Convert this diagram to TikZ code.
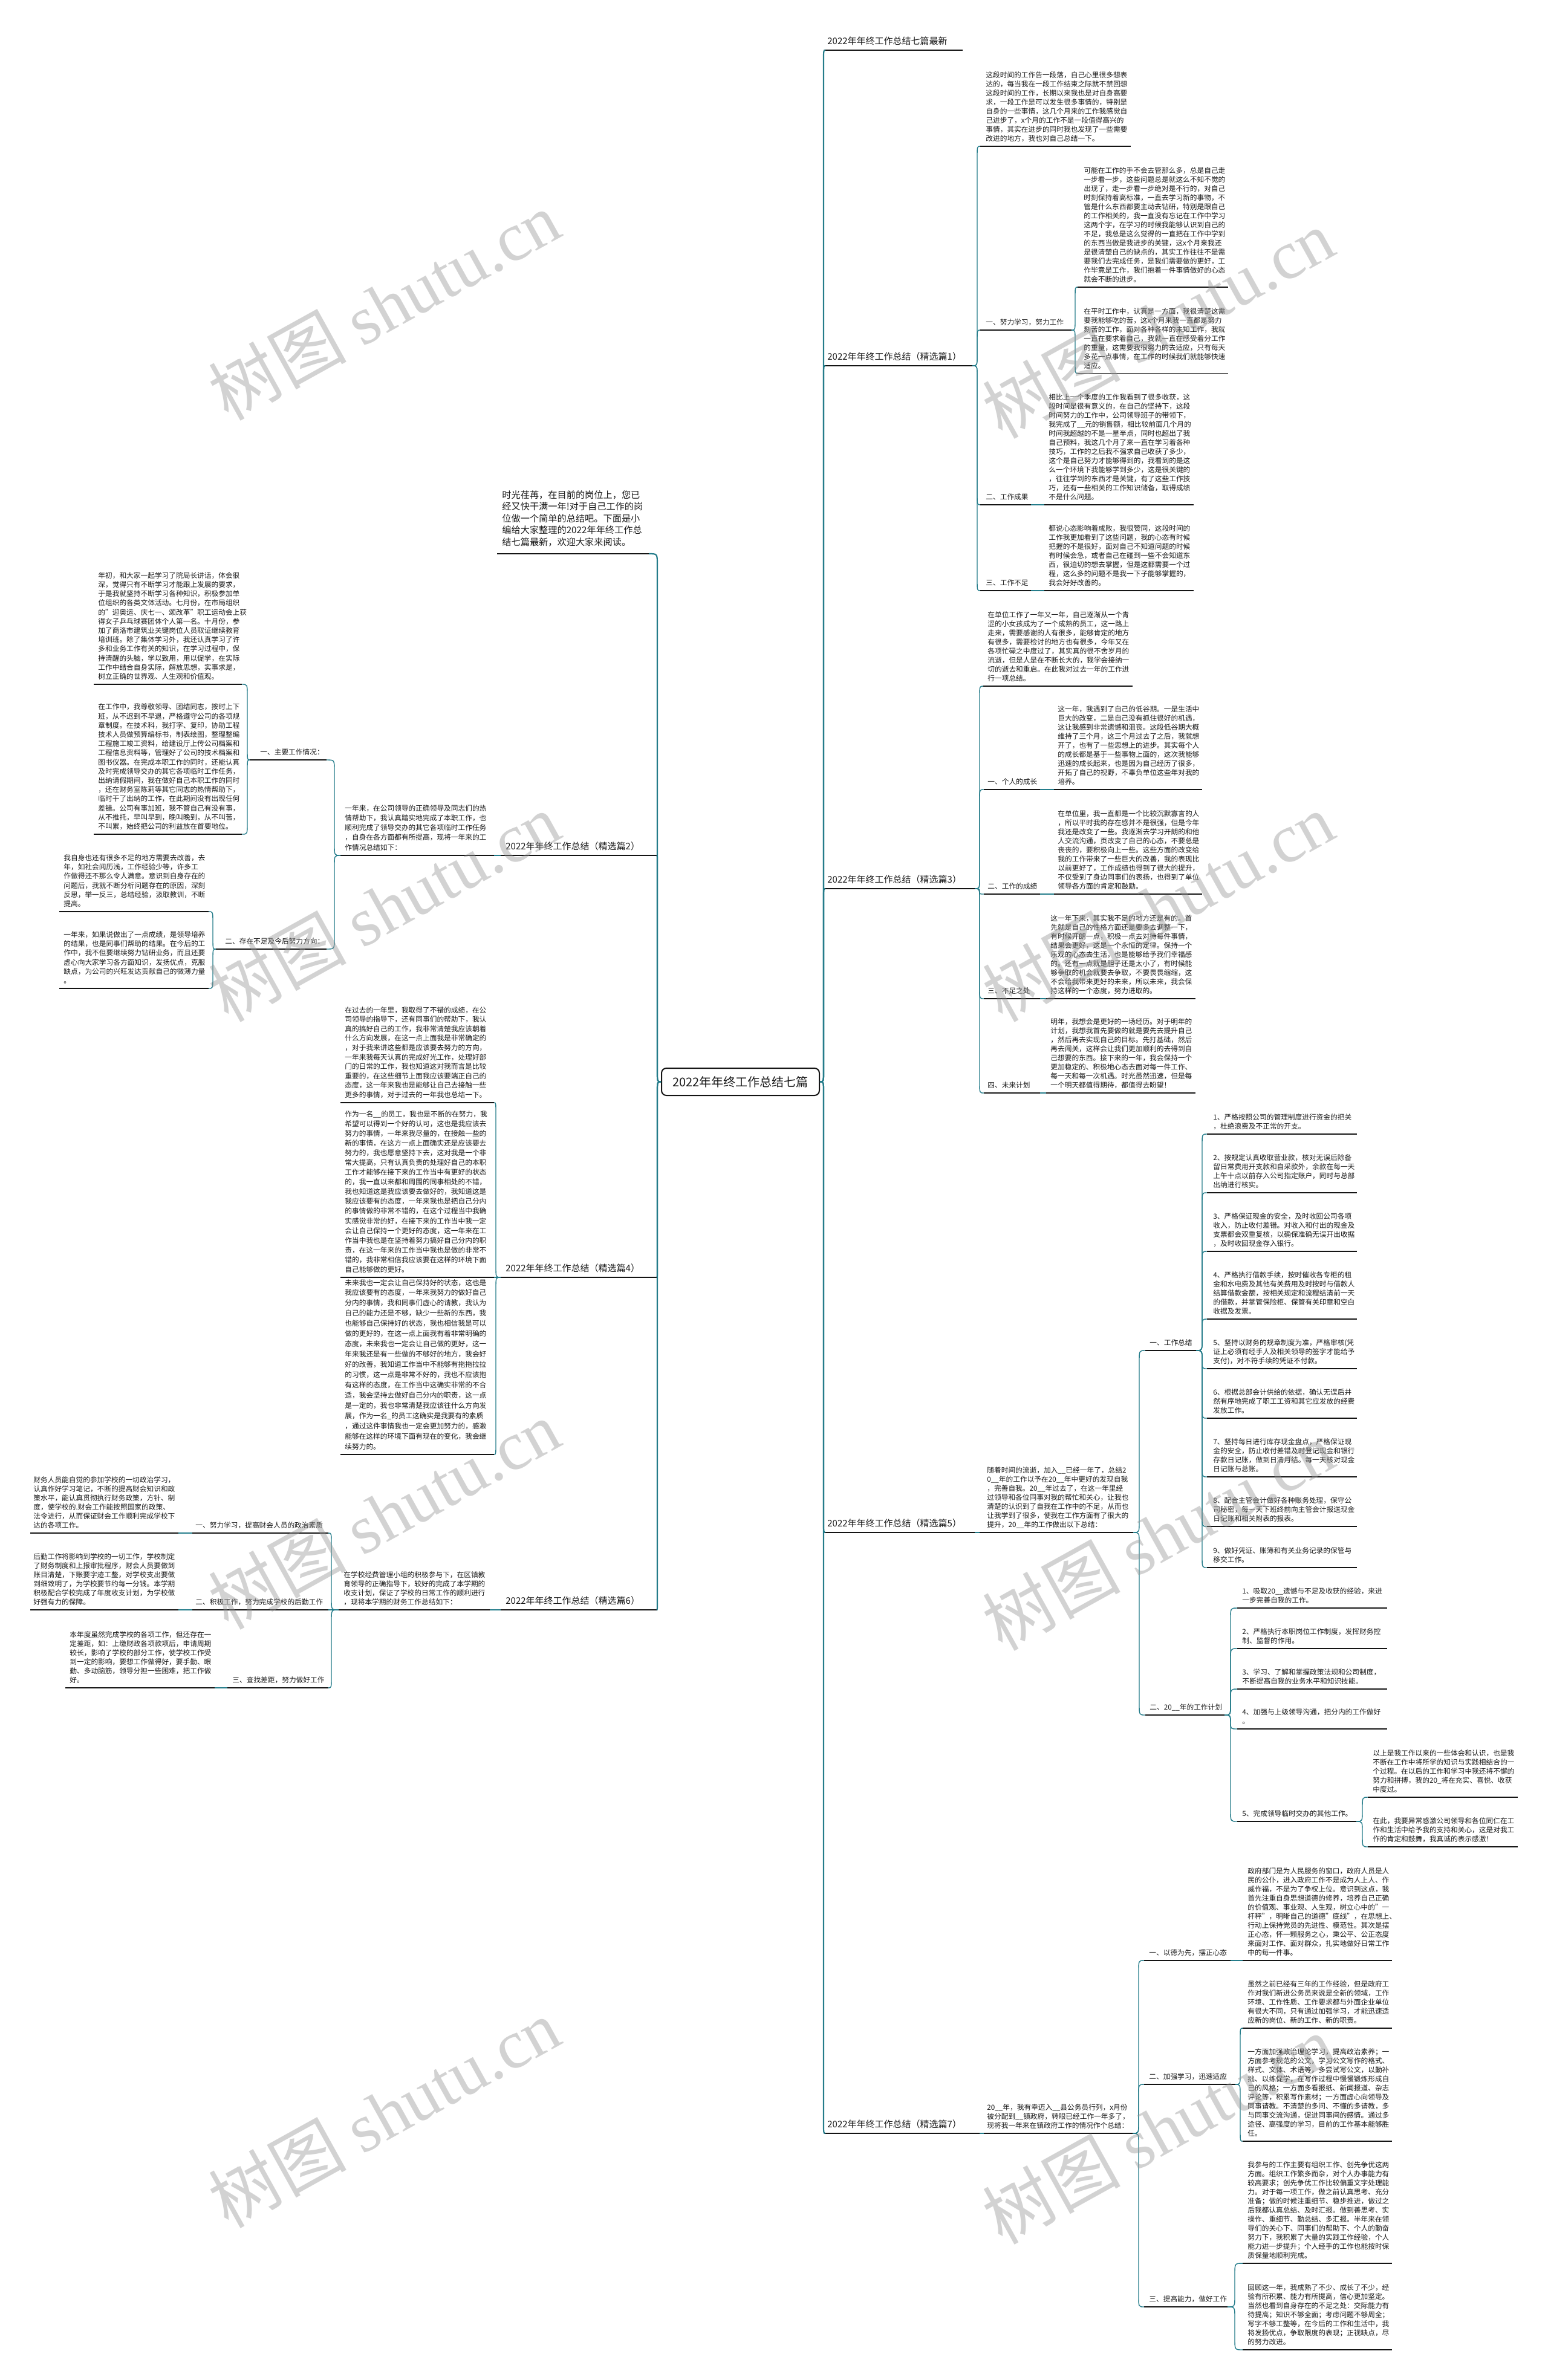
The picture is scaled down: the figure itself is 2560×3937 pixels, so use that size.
\documentclass[tikz,border=0pt]{standalone}
\usepackage{fontspec}
\setmainfont{Noto Sans CJK SC}
\newfontfamily\wmlatin{Liberation Serif}
\usetikzlibrary{calc}
\definecolor{teal1}{RGB}{36,124,138}
\definecolor{txt}{RGB}{25,25,25}
\definecolor{ulc}{RGB}{20,20,20}
\definecolor{wm}{RGB}{150,150,150}
\tikzset{
 para/.style={anchor=south west, inner sep=0pt, align=left, text=txt, font=\fontsize{5.85pt}{7.5pt}\selectfont, execute at end node=\strut},
 pitch/.style={font=\fontsize{5.85pt}{#1}\selectfont},
 blabel/.style={font=\fontsize{7.5pt}{9pt}\selectfont},
 ulline/.style={draw=ulc, line width=0.8pt},
 conn/.style={draw=teal1, line width=0.7pt},
 rootconn/.style={draw=teal1, line width=1.1pt},
 rootbox/.style={draw=ulc, line width=1pt, rounded corners=4pt, fill=white, minimum width=130.5pt, minimum height=22.5pt, font=\fontsize{10pt}{12pt}\selectfont, text=txt, inner sep=0pt},
 wmark/.style={text=wm, opacity=0.42, rotate=29, font=\fontsize{57pt}{62pt}\selectfont, inner sep=0pt},
}
\newcommand\mkul[4]{\coordinate (#1-l) at (#2,#4);\coordinate (#1-r) at (#3,#4);\draw[ulline] (#1-l) -- (#1-r);}
\newcommand\mktxt[5][]{\node[para,#1] (#2) at (#3,#4-3.5) {#5};}
\newcommand\mklink[4][conn]{\draw[#1] let \p1=(#2), \p2=(#3), \n1={((\y2>\y1)-(\y2<\y1))}, \n2={min(9pt,abs(\y2-\y1)/2)} in (\p1) .. controls ({\x1+(#4)},\y1) .. ({\x1+(#4)},{\y1+(\n1)*(\n2)}) -- ({\x1+(#4)},{\y2-(\n1)*(\n2)}) .. controls ({\x1+(#4)},\y2) .. (\p2);}
\begin{document}
\begin{tikzpicture}[x=0.5pt,y=-0.5pt]
\useasboundingbox (0,0) rectangle (2560,3937);
\fill[white] (0,0) rectangle (2560,3937);
% root
\node[rootbox] (root) at (1224.5,1789.5) {2022年年终工作总结七篇};
%================ RIGHT =================
% B1
\mkul{b1}{1365}{1592}{83}
\mktxt[blabel]{b1t}{1368}{83}{2022年年终工作总结七篇最新}
% B2
\mkul{b2}{1365}{1608}{605}
\mktxt[blabel]{b2t}{1368}{605}{2022年年终工作总结（精选篇1）}
\mkul{b2i}{1621}{1870}{242}
\mktxt{b2it}{1630}{242}{这段时间的工作告一段落，自己心里很多想表\\达的，每当我在一段工作结束之际就不禁回想\\这段时间的工作，长期以来我也是对自身高要\\求，一段工作是可以发生很多事情的，特别是\\自身的一些事情，这几个月来的工作我感觉自\\己进步了，x个月的工作不是一段值得高兴的\\事情，其实在进步的同时我也发现了一些需要\\改进的地方，我也对自己总结一下。}
\mkul{b2a}{1621}{1772}{546}
\mktxt{b2at}{1630}{546}{一、努力学习，努力工作}
\mkul{b2a1}{1782}{2031}{475}
\mktxt{b2a1t}{1792}{475}{可能在工作的手不会去管那么多，总是自己走\\一步看一步，这些问题总是就这么不知不觉的\\出现了，走一步看一步绝对是不行的，对自己\\时刻保持着高标准，一直去学习新的事物，不\\管是什么东西都要主动去钻研，特别是跟自己\\的工作相关的，我一直没有忘记在工作中学习\\这两个字，在学习的时候我能够认识到自己的\\不足，我总是这么觉得的一直把在工作中学到\\的东西当做是我进步的关键，这x个月来我还\\是很清楚自己的缺点的，其实工作往往不是需\\要我们去完成任务，是我们需要做的更好，工\\作毕竟是工作，我们抱着一件事情做好的心态\\就会不断的进步。}
\mkul{b2a2}{1782}{2031}{617.5}
\mktxt{b2a2t}{1792}{617.5}{在平时工作中，认真是一方面，我很清楚这需\\要我能够吃的苦，这x个月来我一直都是努力\\刻苦的工作，面对各种各样的未知工作，我就\\一直在要求着自己，我就一直在感受着分工作\\的重量，这需要我很努力的去适应，只有每天\\多花一点事情，在工作的时候我们就能够快速\\适应。}
\mkul{b2b}{1621}{1705}{835}
\mktxt{b2bt}{1630}{835}{二、工作成果}
\mkul{b2b1}{1727}{1974}{835}
\mktxt{b2b1t}{1734}{835}{相比上一个季度的工作我看到了很多收获，这\\段时间是很有意义的，在自己的坚持下，这段\\时间努力的工作中，公司领导班子的带领下，\\我完成了\_\_元的销售额，相比较前面几个月的\\时间我超越的不是一星半点，同时也超出了我\\自己预料，我这几个月了来一直在学习着各种\\技巧，工作的之后我不强求自己收获了多少，\\这个是自己努力才能够得到的，我看到的是这\\么一个环境下我能够学到多少，这是很关键的\\，往往学到的东西才是关键，有了这些工作技\\巧，还有一些相关的工作知识储备，取得成绩\\不是什么问题。}
\mkul{b2c}{1621}{1705}{977}
\mktxt{b2ct}{1630}{977}{三、工作不足}
\mkul{b2c1}{1727}{1974}{977}
\mktxt{b2c1t}{1734}{977}{都说心态影响着成败，我很赞同，这段时间的\\工作我更加看到了这些问题，我的心态有时候\\把握的不是很好，面对自己不知道问题的时候\\有时候会急，或者自己在碰到一些不会知道东\\西，很迫切的想去掌握，但是这都需要一个过\\程，这么多的问题不是我一下子能够掌握的，\\我会好好改善的。}
\mklink{b2-r}{b2i-l}{4pt}
\mklink{b2-r}{b2a-l}{4pt}
\mklink{b2-r}{b2b-l}{4pt}
\mklink{b2-r}{b2c-l}{4pt}
\mklink{b2a-r}{b2a1-l}{3pt}
\mklink{b2a-r}{b2a2-l}{3pt}
\mklink{b2b-r}{b2b1-l}{3pt}
\mklink{b2c-r}{b2c1-l}{3pt}
% B3
\mkul{b3}{1365}{1612}{1470}
\mktxt[blabel]{b3t}{1368}{1470}{2022年年终工作总结（精选篇3）}
\mkul{b3i}{1626}{1873}{1135}
\mktxt{b3it}{1633}{1135}{在单位工作了一年又一年，自己逐渐从一个青\\涩的小女孩成为了一个成熟的员工，这一路上\\走来，需要感谢的人有很多，能够肯定的地方\\有很多，需要检讨的地方也有很多，今年又在\\各项忙碌之中度过了，其实真的很不舍岁月的\\流逝，但是人是在不断长大的，我学会接纳一\\切的逝去和重启。在此我对过去一年的工作进\\行一项总结。}
\mkul{b3a}{1627}{1720}{1306}
\mktxt{b3at}{1633}{1306}{一、个人的成长}
\mkul{b3a1}{1743}{1988}{1306}
\mktxt{b3a1t}{1749}{1306}{这一年，我遇到了自己的低谷期。一是生活中\\巨大的改变，二是自己没有抓住很好的机遇，\\这让我感到非常遗憾和沮丧。这段低谷期大概\\维持了三个月，这三个月过去了之后，我就想\\开了，也有了一些思想上的进步。其实每个人\\的成长都是基于一些事物上面的，这次我能够\\迅速的成长起来，也是因为自己经历了很多，\\开拓了自己的视野，不辜负单位这些年对我的\\培养。}
\mkul{b3b}{1627}{1720}{1479}
\mktxt{b3bt}{1633}{1479}{二、工作的成绩}
\mkul{b3b1}{1743}{1988}{1479}
\mktxt{b3b1t}{1749}{1479}{在单位里，我一直都是一个比较沉默寡言的人\\，所以平时我的存在感并不是很强，但是今年\\我还是改变了一些。我逐渐去学习开朗的和他\\人交流沟通，页改变了自己的心态，不要总是\\丧丧的，要积极向上一些。这些方面的改变给\\我的工作带来了一些巨大的改善，我的表现比\\以前更好了，工作成绩也得到了很大的提升，\\不仅受到了身边同事们的表扬，也得到了单位\\领导各方面的肯定和鼓励。}
\mkul{b3c}{1627}{1720}{1652}
\mktxt{b3ct}{1633}{1652}{三、不足之处}
\mkul{b3c1}{1730}{1977}{1652}
\mktxt{b3c1t}{1737}{1652}{这一年下来，其实我不足的地方还是有的。首\\先就是自己的性格方面还是要多去调整一下，\\有时候开朗一点，积极一点去对待每件事情，\\结果会更好，这是一个永恒的定律。保持一个\\乐观的心态去生活，也是能够给予我们幸福感\\的。还有一点就是胆子还是太小了，有时候能\\够争取的机会就要去争取，不要畏畏缩缩，这\\不会给我带来更好的未来，所以未来，我会保\\持这样的一个态度，努力进取的。}
\mkul{b3d}{1627}{1720}{1808}
\mktxt{b3dt}{1633}{1808}{四、未来计划}
\mkul{b3d1}{1730}{1977}{1808}
\mktxt{b3d1t}{1737}{1808}{明年，我想会是更好的一场经历。对于明年的\\计划，我想我首先要做的就是要先去提升自己\\，然后再去实现自己的目标。先打基础，然后\\再去闯关，这样会让我们更加顺利的去得到自\\己想要的东西。接下来的一年，我会保持一个\\更加稳定的、积极地心态去面对每一件工作、\\每一天和每一次机遇。时光虽然迅速，但是每\\一个明天都值得期待，都值得去盼望！}
\mklink{b3-r}{b3i-l}{4pt}
\mklink{b3-r}{b3a-l}{4pt}
\mklink{b3-r}{b3b-l}{4pt}
\mklink{b3-r}{b3c-l}{4pt}
\mklink{b3-r}{b3d-l}{4pt}
\mklink{b3a-r}{b3a1-l}{3pt}
\mklink{b3b-r}{b3b1-l}{3pt}
\mklink{b3c-r}{b3c1-l}{3pt}
\mklink{b3d-r}{b3d1-l}{3pt}
% B5
\mkul{b5}{1365}{1612}{2535}
\mktxt[blabel]{b5t}{1368}{2535}{2022年年终工作总结（精选篇5）}
\mkul{b5i}{1620}{1874}{2535}
\mktxt{b5it}{1632}{2535}{随着时间的流逝，加入\_\_已经一年了，总结2\\0\_\_年的工作以予在20\_\_年中更好的发现自我\\，完善自我。20\_\_年过去了，在这一年里经\\过领导和各位同事对我的帮忙和关心，让我也\\清楚的认识到了自我在工作中的不足，从而也\\让我学到了很多，使我在工作方面有了很大的\\提升，20\_\_年的工作做出以下总结：}
\mkul{b5a}{1894}{1978}{2234}
\mktxt{b5at}{1901}{2234}{一、工作总结}
\mkul{b5a1}{1996}{2244}{1876}
\mktxt{b5a1t}{2006}{1876}{1、严格按照公司的管理制度进行资金的把关\\，杜绝浪费及不正常的开支。}
\mkul{b5a2}{1996}{2244}{1973}
\mktxt{b5a2t}{2006}{1973}{2、按规定认真收取营业款，核对无误后除备\\留日常费用开支款和自采款外，余款在每一天\\上午十点以前存入公司指定账户，同时与总部\\出纳进行核实。}
\mkul{b5a3}{1996}{2244}{2070}
\mktxt{b5a3t}{2006}{2070}{3、严格保证现金的安全，及时收回公司各项\\收入，防止收付差错。对收入和付出的现金及\\支票都会双重复核，以确保准确无误开出收据\\，及时收回现金存入银行。}
\mkul{b5a4}{1996}{2244}{2182}
\mktxt{b5a4t}{2006}{2182}{4、严格执行借款手续，按时催收各专柜的租\\金和水电费及其他有关费用及时按时与借款人\\结算借款金额，按相关规定和流程结清前一天\\的借款，并掌管保险柜、保管有关印章和空白\\收据及发票。}
\mkul{b5a5}{1996}{2244}{2264}
\mktxt{b5a5t}{2006}{2264}{5、坚持以财务的规章制度为准，严格审核(凭\\证上必须有经手人及相关领导的签字才能给予\\支付)，对不符手续的凭证不付款。}
\mkul{b5a6}{1996}{2244}{2346}
\mktxt{b5a6t}{2006}{2346}{6、根据总部会计供给的依据，确认无误后井\\然有序地完成了职工工资和其它应发放的经费\\发放工作。}
\mkul{b5a7}{1996}{2244}{2443}
\mktxt{b5a7t}{2006}{2443}{7、坚持每日进行库存现金盘点，严格保证现\\金的安全，防止收付差错及时登记现金和银行\\存款日记账，做到日清月结。每一天核对现金\\日记账与总账。}
\mkul{b5a8}{1996}{2244}{2525}
\mktxt{b5a8t}{2006}{2525}{8、配合主管会计做好各种账务处理，保守公\\司秘密，每一天下班终前向主管会计报送现金\\日记账和相关附表的报表。}
\mkul{b5a9}{1996}{2244}{2593}
\mktxt{b5a9t}{2006}{2593}{9、做好凭证、账簿和有关业务记录的保管与\\移交工作。}
\mkul{b5b}{1894}{2025}{2837}
\mktxt{b5bt}{1901}{2837}{二、20\_\_年的工作计划}
\mkul{b5b1}{2046}{2294}{2660}
\mktxt{b5b1t}{2054}{2660}{1、吸取20\_\_遗憾与不足及收获的经验，来进\\一步完善自我的工作。}
\mkul{b5b2}{2046}{2294}{2727}
\mktxt{b5b2t}{2054}{2727}{2、严格执行本职岗位工作制度，发挥财务控\\制、监督的作用。}
\mkul{b5b3}{2046}{2294}{2794}
\mktxt{b5b3t}{2054}{2794}{3、学习、了解和掌握政策法规和公司制度，\\不断提高自我的业务水平和知识技能。}
\mkul{b5b4}{2046}{2294}{2860}
\mktxt{b5b4t}{2054}{2860}{4、加强与上级领导沟通，把分内的工作做好\\。}
\mkul{b5b5}{2046}{2243}{3013}
\mktxt{b5b5t}{2054}{3013}{5、完成领导临时交办的其他工作。}
\mkul{b5b5a}{2262}{2510}{2973}
\mktxt{b5b5at}{2270}{2973}{以上是我工作以来的一些体会和认识，也是我\\不断在工作中将所学的知识与实践相结合的一\\个过程。在以后的工作和学习中我还将不懈的\\努力和拼搏，我的20\_将在充实、喜悦、收获\\中度过。}
\mkul{b5b5b}{2262}{2510}{3055}
\mktxt{b5b5bt}{2270}{3055}{在此，我要异常感激公司领导和各位同仁在工\\作和生活中给予我的支持和关心，这是对我工\\作的肯定和鼓舞，我真诚的表示感激！}
\mklink{b5-r}{b5i-l}{3pt}
\mklink{b5i-r}{b5a-l}{5pt}
\mklink{b5i-r}{b5b-l}{5pt}
\foreach \k in {1,...,9}{\mklink{b5a-r}{b5a\k-l}{5pt}}
\foreach \k in {1,...,5}{\mklink{b5b-r}{b5b\k-l}{5pt}}
\mklink{b5b5-r}{b5b5a-l}{5pt}
\mklink{b5b5-r}{b5b5b-l}{5pt}
% B7
\mkul{b7}{1365}{1620}{3529}
\mktxt[blabel]{b7t}{1368}{3529}{2022年年终工作总结（精选篇7）}
\mkul{b7i}{1627}{1873}{3529}
\mktxt{b7it}{1632}{3529}{20\_\_年，我有幸迈入\_\_县公务员行列，x月份\\被分配到\_\_镇政府，转眼已经工作一年多了，\\现将我一年来在镇政府工作的情况作个总结：}
\mkul{b7a}{1892}{2035}{3243}
\mktxt{b7at}{1900}{3243}{一、以德为先，摆正心态}
\mkul{b7a1}{2055}{2302}{3243}
\mktxt{b7a1t}{2063}{3243}{政府部门是为人民服务的窗口，政府人员是人\\民的公仆，进入政府工作不是成为人上人、作\\威作福，不是为了争权上位。意识到这点，我\\首先注重自身思想道德的修养，培养自己正确\\的价值观、事业观、人生观，树立心中的"一\\杆秤"，明晰自己的道德"底线"，在思想上、\\行动上保持党员的先进性、模范性。其次是摆\\正心态，怀一颗服务之心，秉公平、公正态度\\来面对工作、面对群众，扎实地做好日常工作\\中的每一件事。}
\mkul{b7b}{1892}{2043}{3448}
\mktxt{b7bt}{1900}{3448}{二、加强学习，迅速适应}
\mkul{b7b1}{2055}{2302}{3355}
\mktxt{b7b1t}{2063}{3355}{虽然之前已经有三年的工作经验，但是政府工\\作对我们新进公务员来说是全新的领域，工作\\环境、工作性质、工作要求都与外面企业单位\\有很大不同，只有通过加强学习，才能迅速适\\应新的岗位、新的工作、新的职责。}
\mkul{b7b2}{2055}{2302}{3542}
\mktxt{b7b2t}{2063}{3542}{一方面加强政治理论学习，提高政治素养；一\\方面参考规范的公文，学习公文写作的格式、\\样式、文体、术语等，多尝试写公文，以勤补\\拙、以练促学，在写作过程中慢慢锻炼形成自\\己的风格；一方面多看报纸、新闻报道、杂志\\评论等，积累写作素材；一方面虚心向领导及\\同事请教。不清楚的多问、不懂的多请教，多\\与同事交流沟通，促进同事间的感情。通过多\\途径、高强度的学习，目前的工作基本能够胜\\任。}
\mkul{b7c}{1892}{2030}{3816}
\mktxt{b7ct}{1900}{3816}{三、提高能力，做好工作}
\mkul{b7c1}{2055}{2302}{3744}
\mktxt{b7c1t}{2063}{3744}{我参与的工作主要有组织工作、创先争优这两\\方面。组织工作繁多而杂，对个人办事能力有\\较高要求；创先争优工作比较偏重文字处理能\\力。对于每一项工作，做之前认真思考、充分\\准备；做的时候注重细节、稳步推进，做过之\\后我都认真总结、及时汇报。做到善思考、实\\操作、重细节、勤总结、多汇报。半年来在领\\导们的关心下、同事们的帮助下、个人的勤奋\\努力下，我积累了大量的实践工作经验，个人\\能力进一步提升；个人经手的工作也能按时保\\质保量地顺利完成。}
\mkul{b7c2}{2055}{2302}{3887}
\mktxt{b7c2t}{2063}{3887}{回顾这一年，我成熟了不少、成长了不少，经\\验有所积累、能力有所提高，信心更加坚定。\\当然也看到自身存在的不足之处：交际能力有\\待提高；知识不够全面；考虑问题不够周全；\\写字不够工整等，在今后的工作和生活中，我\\将发扬优点，争取限度的表现；正视缺点，尽\\的努力改进。}
\mklink{b7-r}{b7i-l}{3pt}
\mklink{b7i-r}{b7a-l}{5pt}
\mklink{b7i-r}{b7b-l}{5pt}
\mklink{b7i-r}{b7c-l}{5pt}
\mklink{b7a-r}{b7a1-l}{4pt}
\mklink{b7b-r}{b7b1-l}{4pt}
\mklink{b7b-r}{b7b2-l}{4pt}
\mklink{b7c-r}{b7c1-l}{6pt}
\mklink{b7c-r}{b7c2-l}{6pt}
%================ LEFT =================
\mkul{li}{822}{1073}{916}
\mktxt[font=\fontsize{7.6pt}{9.75pt}\selectfont]{lit}{830}{912.2}{时光荏苒，在目前的岗位上，您已\\经又快干满一年!对于自己工作的岗\\位做一个简单的总结吧。下面是小\\编给大家整理的2022年年终工作总\\结七篇最新，欢迎大家来阅读。}
% B2L
\mkul{c2}{828}{1086}{1415}
\mktxt[blabel]{c2t}{836}{1415}{2022年年终工作总结（精选篇2）}
\mkul{c2i}{563}{817}{1415}
\mktxt[pitch=8.15pt]{c2it}{570}{1415}{一年来，在公司领导的正确领导及同志们的热\\情帮助下，我认真踏实地完成了本职工作，也\\顺利完成了领导交办的其它各项临时工作任务\\，自身在各方面都有所提高，现将一年来的工\\作情况总结如下：}
\mkul{c2a}{413}{540}{1257}
\mktxt{c2at}{430}{1257}{一、主要工作情况：}
\mkul{c2a1}{155}{400}{1132}
\mktxt[pitch=7.6pt]{c2a1t}{162}{1132}{年初，和大家一起学习了院局长讲话，体会很\\深，觉得只有不断学习才能跟上发展的要求，\\于是我就坚持不断学习各种知识，积极参加单\\位组织的各类文体活动。七月份，在市局组织\\的"迎奥运、庆七一、颂改革"职工运动会上获\\得女子乒乓球赛团体个人第一名。十月份，参\\加了商洛市建筑业关键岗位人员取证继续教育\\培训班。除了集体学习外，我还认真学习了许\\多和业务工作有关的知识，在学习过程中，保\\持清醒的头脑，学以致用，用以促学，在实际\\工作中结合自身实际，解放思想，实事求是，\\树立正确的世界观、人生观和价值观。}
\mkul{c2a2}{155}{400}{1380}
\mktxt[pitch=7.6pt]{c2a2t}{162}{1380}{在工作中，我尊敬领导、团结同志，按时上下\\班，从不迟到不早退，严格遵守公司的各项规\\章制度。在技术科，我打字、复印，协助工程\\技术人员做预算编标书，制表绘图，整理整编\\工程施工竣工资料，给建设厅上传公司档案和\\工程信息资料等，管理好了公司的技术档案和\\图书仪器。在完成本职工作的同时，还能认真\\及时完成领导交办的其它各项临时工作任务，\\出纳请假期间，我在做好自己本职工作的同时\\，还在财务室陈莉等其它同志的热情帮助下，\\临时干了出纳的工作，在此期间没有出现任何\\差错。公司有事加班，我不管自己有没有事，\\从不推托，早叫早到，晚叫晚到，从不叫苦，\\不叫累，始终把公司的利益放在首要地位。}
\mkul{c2b}{357}{540}{1570}
\mktxt{c2bt}{372}{1570}{二、存在不足及今后努力方向：}
\mkul{c2b1}{98}{345}{1508}
\mktxt[pitch=7.6pt]{c2b1t}{105}{1508}{我自身也还有很多不足的地方需要去改善，去\\年，如社会阅历浅，工作经验少等，许多工\\作做得还不那么令人满意。意识到自身存在的\\问题后，我就不断分析问题存在的原因，深刻\\反思，举一反三，总结经验，汲取教训，不断\\提高。}
\mkul{c2b2}{98}{345}{1635}
\mktxt[pitch=7.6pt]{c2b2t}{105}{1635}{一年来，如果说做出了一点成绩，是领导培养\\的结果，也是同事们帮助的结果。在今后的工\\作中，我不但要继续努力钻研业务，而且还要\\虚心向大家学习各方面知识，发扬优点，克服\\缺点，为公司的兴旺发达贡献自己的微薄力量\\。}
\mklink{c2-l}{c2i-r}{-3pt}
\mklink{c2i-l}{c2a-r}{-5pt}
\mklink{c2i-l}{c2b-r}{-5pt}
\mklink{c2a-l}{c2a1-r}{-2pt}
\mklink{c2a-l}{c2a2-r}{-2pt}
\mklink{c2b-l}{c2b1-r}{-2.5pt}
\mklink{c2b-l}{c2b2-r}{-2.5pt}
% B4L
\mkul{c4}{828}{1086}{2113}
\mktxt[blabel]{c4t}{836}{2113}{2022年年终工作总结（精选篇4）}
\mkul{c4a}{563}{817}{1824}
\mktxt[pitch=7.8pt]{c4at}{570}{1824}{在过去的一年里，我取得了不错的成绩，在公\\司领导的指导下，还有同事们的帮助下，我认\\真的搞好自己的工作，我非常清楚我应该朝着\\什么方向发展，在这一点上面我是非常确定的\\，对于我来讲这些都是应该要去努力的方向，\\一年来我每天认真的完成好光工作，处理好部\\门的日常的工作，我也知道这对我而言是比较\\重要的，在这些细节上面我应该要端正自己的\\态度，这一年来我也是能够让自己去接触一些\\更多的事情，对于过去的一年我也总结一下。}
\mkul{c4b}{563}{817}{2113}
\mktxt[pitch=8.03pt]{c4bt}{570}{2113}{作为一名\_\_的员工，我也是不断的在努力，我\\希望可以得到一个好的认可，这也是我应该去\\努力的事情，一年来我尽量的，在接触一些的\\新的事情，在这方一点上面确实还是应该要去\\努力的，我也愿意坚持下去，这对我是一个非\\常大提高，只有认真负责的处理好自己的本职\\工作才能够在接下来的工作当中有更好的状态\\的，我一直以来都和周围的同事相处的不错，\\我也知道这是我应该要去做好的，我知道这是\\我应该要有的态度，一年来我也是把自己分内\\的事情做的非常不错的，在这个过程当中我确\\实感觉非常的好，在接下来的工作当中我一定\\会让自己保持一个更好的态度，这一年来在工\\作当中我也是在坚持着努力搞好自己分内的职\\责，在这一年来的工作当中我也是做的非常不\\错的，我非常相信我应该要在这样的环境下面\\自己能够做的更好。}
\mkul{c4c}{563}{817}{2406}
\mktxt[pitch=8.47pt]{c4ct}{570}{2406}{未来我也一定会让自己保持好的状态，这也是\\我应该要有的态度，一年来我努力的做好自己\\分内的事情，我和同事们虚心的请教，我认为\\自己的能力还是不够，缺少一些新的东西，我\\也能够自己保持好的状态，我也相信我是可以\\做的更好的，在这一点上面我有着非常明确的\\态度，未来我也一定会让自己做的更好，这一\\年来我还是有一些做的不够好的地方，我会好\\好的改善，我知道工作当中不能够有拖拖拉拉\\的习惯，这一点是非常不好的，我也不应该抱\\有这样的态度，在工作当中这确实非常的不合\\适，我会坚持去做好自己分内的职责，这一点\\是一定的，我也非常清楚我应该往什么方向发\\展，作为一名\_的员工这确实是我要有的素质\\，通过这件事情我也一定会更加努力的，感激\\能够在这样的环境下面有现在的变化，我会继\\续努力的。}
\mklink{c4-l}{c4a-r}{-4pt}
\mklink{c4-l}{c4b-r}{-4pt}
\mklink{c4-l}{c4c-r}{-4pt}
% B6L
\mkul{c6}{828}{1086}{2663}
\mktxt[blabel]{c6t}{836}{2663}{2022年年终工作总结（精选篇6）}
\mkul{c6i}{560}{810}{2663}
\mktxt{c6it}{568}{2663}{在学校经费管理小组的积极参与下，在区镇教\\育领导的正确指导下，较好的完成了本学期的\\收支计划，保证了学校的日常工作的顺利进行\\，现将本学期的财务工作总结如下：}
\mkul{c6a}{318}{543}{2536}
\mktxt{c6at}{323}{2536}{一、努力学习，提高财会人员的政治素质}
\mkul{c6a1}{50}{295}{2536}
\mktxt{c6a1t}{55}{2536}{财务人员能自觉的参加学校的一切政治学习，\\认真作好学习笔记，不断的提高财会知识和政\\策水平，能认真贯彻执行财务政策，方针、制\\度，使学校的.财会工作能按照国家的政策、\\法令进行，从而保证财会工作顺利完成学校下\\达的各项工作。}
\mkul{c6b}{318}{543}{2663}
\mktxt{c6bt}{323}{2663}{二、积极工作，努力完成学校的后勤工作}
\mkul{c6b1}{50}{295}{2663}
\mktxt{c6b1t}{55}{2663}{后勤工作将影响到学校的一切工作，学校制定\\了财务制度和上报审批程序，财会人员要做到\\账目清楚，下账要字迹工整，对学校支出要做\\到细致明了，为学校要节约每一分钱。本学期\\积极配合学校完成了年度收支计划，为学校做\\好强有力的保障。}
\mkul{c6c}{376}{543}{2792}
\mktxt{c6ct}{384}{2792}{三、查找差距，努力做好工作}
\mkul{c6c1}{108}{355}{2792}
\mktxt{c6c1t}{115}{2792}{本年度虽然完成学校的各项工作，但还存在一\\定差距，如：上缴财政各项款项后，申请周期\\较长，影响了学校的部分工作，使学校工作受\\到一定的影响，要想工作做得好，要手勤、眼\\勤、多动脑筋，领导分担一些困难，把工作做\\好。}
\mklink{c6-l}{c6i-r}{-3pt}
\mklink{c6i-l}{c6a-r}{-6pt}
\mklink{c6i-l}{c6b-r}{-6pt}
\mklink{c6i-l}{c6c-r}{-6pt}
\mklink{c6a-l}{c6a1-r}{-3pt}
\mklink{c6b-l}{c6b1-r}{-3pt}
\mklink{c6c-l}{c6c1-r}{-3pt}
%================ ROOT LINKS =================
\mklink[rootconn]{root.east}{b1-l}{3pt}
\mklink[rootconn]{root.east}{b2-l}{3pt}
\mklink[rootconn]{root.east}{b3-l}{3pt}
\mklink[rootconn]{root.east}{b5-l}{3pt}
\mklink[rootconn]{root.east}{b7-l}{3pt}
\mklink[rootconn]{root.west}{li-r}{-3pt}
\mklink[rootconn]{root.west}{c2-r}{-3pt}
\mklink[rootconn]{root.west}{c4-r}{-3pt}
\mklink[rootconn]{root.west}{c6-r}{-3pt}
%================ WATERMARKS =================
\node[wmark] (wm1) at (635,505) {树图 {\wmlatin shutu.cn}};
\node[wmark] (wm2) at (1915,535) {树图 {\wmlatin shutu.cn}};
\node[wmark] (wm3) at (635,1500) {树图 {\wmlatin shutu.cn}};
\node[wmark] (wm4) at (1915,1500) {树图 {\wmlatin shutu.cn}};
\node[wmark] (wm5) at (635,2505) {树图 {\wmlatin shutu.cn}};
\node[wmark] (wm6) at (1915,2540) {树图 {\wmlatin shutu.cn}};
\node[wmark] (wm7) at (635,3495) {树图 {\wmlatin shutu.cn}};
\node[wmark] (wm8) at (1915,3522) {树图 {\wmlatin shutu.cn}};
\end{tikzpicture}
\end{document}
